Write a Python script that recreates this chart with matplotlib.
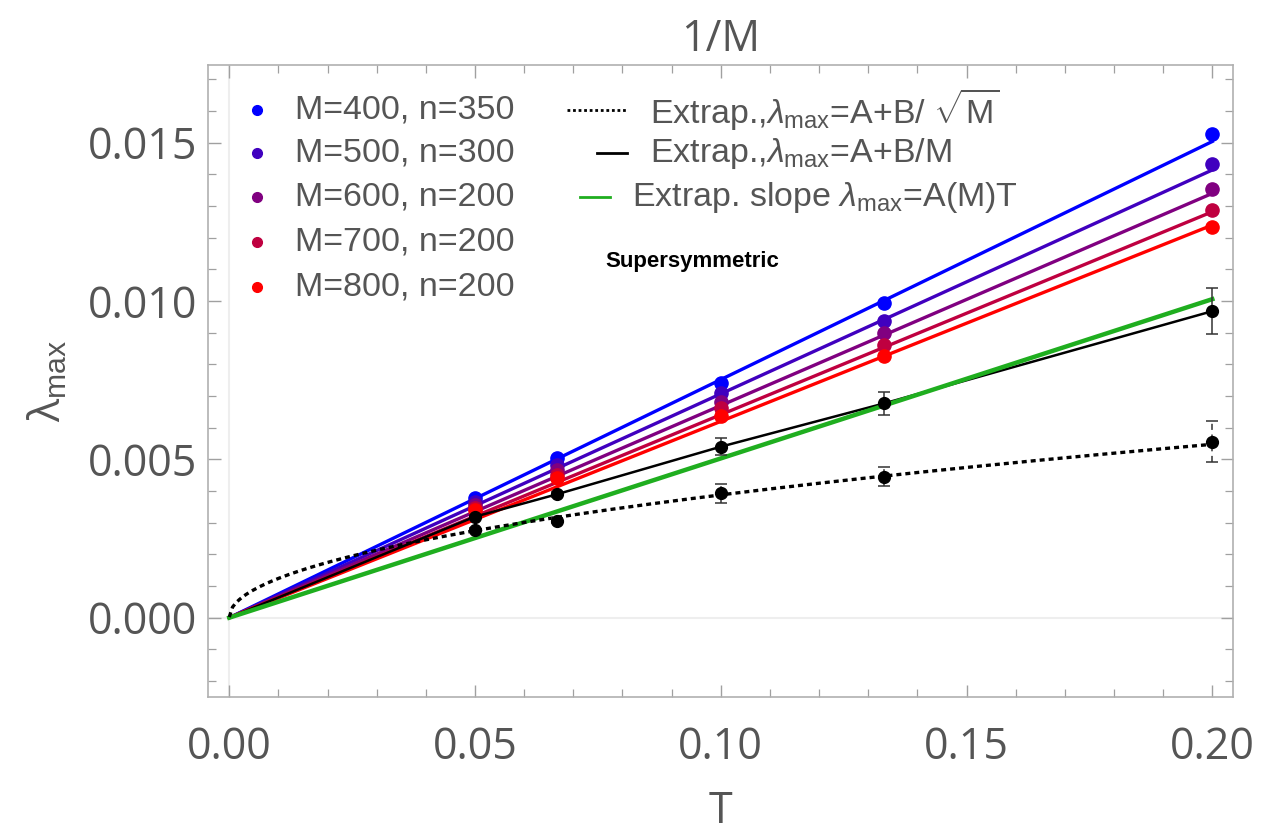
import numpy as np
import matplotlib
matplotlib.use("Agg")
import matplotlib.pyplot as plt
from matplotlib.lines import Line2D

plt.rcParams['font.family'] = ['Open Sans', 'DejaVu Sans']
plt.rcParams['mathtext.fontset'] = 'custom'
plt.rcParams['mathtext.rm'] = 'Liberation Sans'
plt.rcParams['mathtext.it'] = 'Liberation Sans:italic'
plt.rcParams['mathtext.bf'] = 'Liberation Sans:bold'

# T = 1/M values of the data columns
T = [0.05, 0.0667, 0.1, 0.1333, 0.2]

# lambda_max per matrix size
labels = ['M=400, n=350', 'M=500, n=300', 'M=600, n=200', 'M=700, n=200', 'M=800, n=200']
colors = ['#0000ff', '#4000bf', '#800080', '#bf0040', '#ff0000']
lam_400 = [0.00377, 0.00503, 0.00740, 0.00993, 0.01528]
lam_500 = [0.00365, 0.00483, 0.00709, 0.00938, 0.01434]
lam_600 = [0.00356, 0.00468, 0.00682, 0.00898, 0.01354]
lam_700 = [0.00347, 0.00452, 0.00661, 0.00861, 0.01286]
lam_800 = [0.00340, 0.00440, 0.00637, 0.00826, 0.01234]
# slopes of the linear fits lambda = a*T for each M
fit_slope = [0.0752, 0.0707, 0.0670, 0.0641, 0.0620]

# extrapolations in M
extrap_lin = [0.00319, 0.00390, 0.00540, 0.00677, 0.00968]
err_lin = [0.00006, 0.00008, 0.00026, 0.00037, 0.00072]
extrap_sqrt = [0.00277, 0.00306, 0.00393, 0.00445, 0.00556]
err_sqrt = [0.00006, 0.00008, 0.00030, 0.00030, 0.00065]
sqrt_A, sqrt_B = 0.00002, 0.0122
slope_green = 0.0503

gray = '#555555'
fig = plt.figure(figsize=(12.62, 8.39), dpi=100)
ax = fig.add_axes([0.1652, 0.1689, 0.8116, 0.7536])

T = np.array(T)
t_line = np.array([0.0, T.max()])
series = [lam_400, lam_500, lam_600, lam_700, lam_800]
for lam, a, c in zip(series, fit_slope, colors):
    ax.plot(t_line, a * t_line, color=c, lw=2.4, zorder=2)
for lam, c in zip(series, colors):
    ax.plot(T, lam, 'o', color=c, ms=9.5, zorder=3)

# A+B/M extrapolation, joined through the origin
ax.plot(np.r_[0.0, T], np.r_[0.0, extrap_lin], color='black', lw=1.8, zorder=4)
ax.plot(t_line, slope_green * t_line, color='#1fae1f', lw=3.2, zorder=4)
ax.errorbar(T, extrap_lin, yerr=err_lin, fmt='o', color='black', ms=8.5,
            ecolor='#333333', elinewidth=1.1, capsize=4.5, capthick=1.1, zorder=5)

# A+B/sqrt(M) extrapolation
t_fine = np.linspace(0, T.max(), 300)
ax.plot(t_fine, sqrt_A + sqrt_B * np.sqrt(t_fine), color='black', lw=2.4,
        linestyle=(0, (1.5, 1.2)), zorder=4)
eb = ax.errorbar(T, extrap_sqrt, yerr=err_sqrt, fmt='o', color='black', ms=8.5,
                 ecolor='#333333', elinewidth=1.1, capsize=4.5, capthick=1.1, zorder=5)
eb[2][0].set_linestyle((0, (4, 3)))

# faint axes lines
ax.axhline(0, color='#eeeeee', lw=1.5, zorder=0)
ax.axvline(0, color='#eeeeee', lw=1.5, zorder=0)

ax.set_xlim(-0.00423, 0.20415)
ax.set_ylim(-0.002514, 0.017454)
ax.set_xticks(np.arange(0, 0.201, 0.05))
ax.set_xticks(np.arange(0, 0.201, 0.01), minor=True)
ax.set_yticks(np.arange(0, 0.0151, 0.005))
ax.set_yticks(np.arange(-0.002, 0.0171, 0.001), minor=True)
ax.set_xticklabels(['0.00', '0.05', '0.10', '0.15', '0.20'])
ax.set_yticklabels(['0.000', '0.005', '0.010', '0.015'])

for s in ax.spines.values():
    s.set_color('#b0b0b0')
    s.set_linewidth(1.2)
ax.tick_params(which='both', direction='in', top=True, right=True, color='#a0a0a0',
               labelcolor=gray, labelsize=31)
ax.tick_params(which='major', length=9, width=1.0)
ax.tick_params(which='minor', length=5.5, width=0.9)
ax.tick_params(axis='x', pad=20)
ax.tick_params(axis='y', pad=8)

ax.set_title('1/M', fontsize=31, color=gray, pad=10)
ax.set_xlabel('T', fontsize=31, color=gray, labelpad=14)
ax.set_ylabel(r'λ$_{\mathrm{max}}$', fontsize=31, color=gray, labelpad=12)

# legend, left column
row_y = [0.9287, 0.8603, 0.7908, 0.7206, 0.6494]
for y, lab, c in zip(row_y, labels, colors):
    ax.add_line(Line2D([0.0474], [y], marker='o', ms=7, color=c, transform=ax.transAxes))
    ax.text(0.0845, y, lab, transform=ax.transAxes, family='Liberation Sans',
            fontsize=24.5, color=gray, va='center')

# legend, right column
ax.add_line(Line2D([0.3499, 0.4085], [row_y[0]] * 2, color='black', lw=2.0,
                   linestyle=(0, (1, 1)), transform=ax.transAxes))
ax.text(0.4311, row_y[0], r'Extrap.,$\lambda_{\mathrm{max}}$=A+B/ $\sqrt{\mathrm{M}}$',
        transform=ax.transAxes, family='Liberation Sans', fontsize=24.5, color=gray, va='center')
ax.add_line(Line2D([0.3792, 0.4085], [row_y[1]] * 2, color='black', lw=2.0,
                   transform=ax.transAxes))
ax.text(0.4311, row_y[1], r'Extrap.,$\lambda_{\mathrm{max}}$=A+B/M',
        transform=ax.transAxes, family='Liberation Sans', fontsize=24.5, color=gray, va='center')
ax.add_line(Line2D([0.3627, 0.3920], [row_y[2]] * 2, color='#1fae1f', lw=2.0,
                   transform=ax.transAxes))
ax.text(0.4135, row_y[2], r'Extrap. slope $\lambda_{\mathrm{max}}$=A(M)T',
        transform=ax.transAxes, family='Liberation Sans', fontsize=24.5, color=gray, va='center')

ax.text(0.3872, 0.6889, 'Supersymmetric', transform=ax.transAxes, family='Liberation Sans',
        fontsize=16, fontweight='bold', color='black', va='center')

fig.savefig('out.png', dpi=100)
